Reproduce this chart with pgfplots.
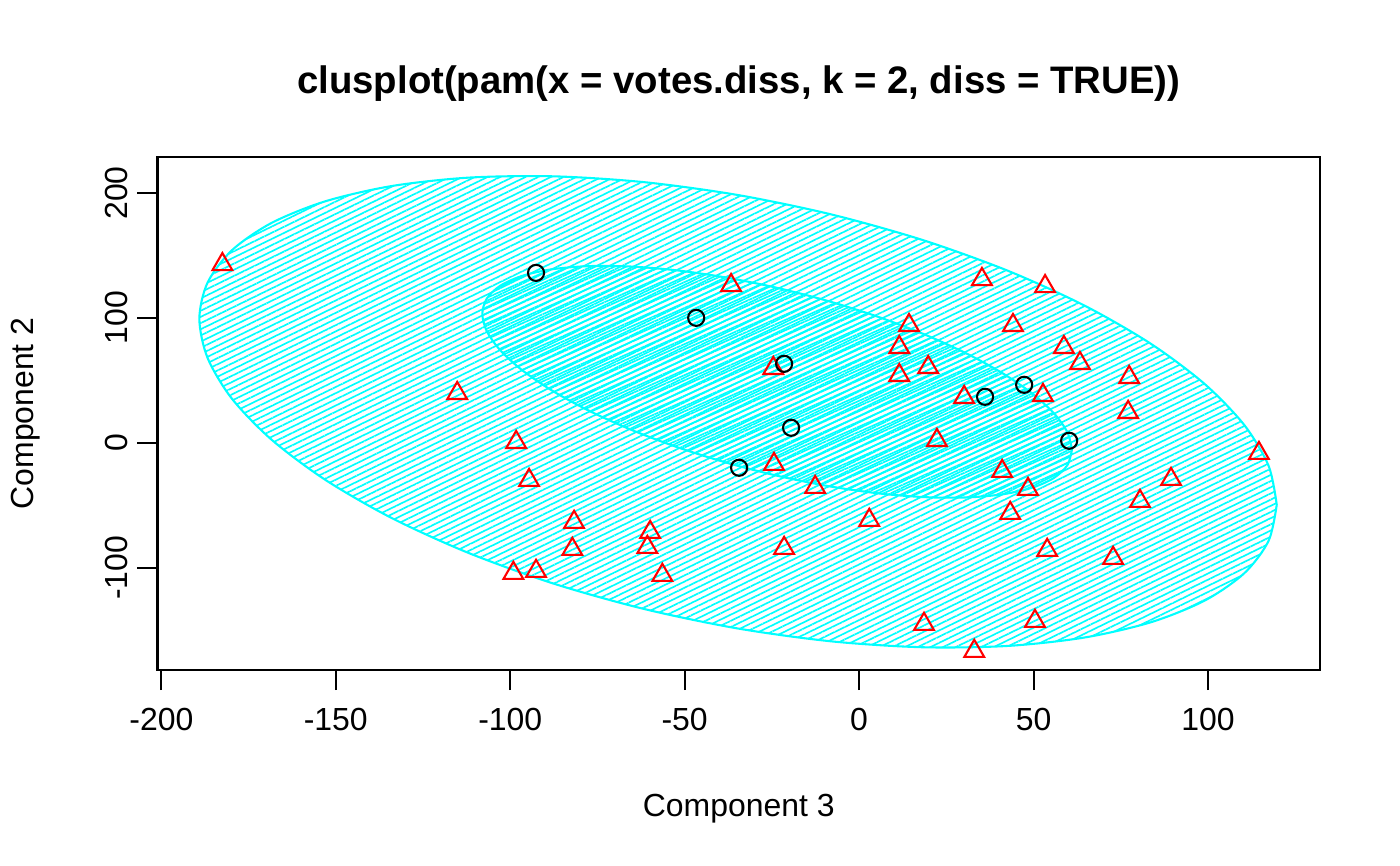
\documentclass[border=0pt]{standalone}
\usepackage{fontspec}
\setmainfont{Liberation Sans}
\usepackage{pgfplots}
\pgfplotsset{compat=1.18}
\usetikzlibrary{patterns.meta}

\definecolor{rcyan}{HTML}{00FFFF}
\definecolor{rred}{HTML}{FF0000}

\begin{document}
\begin{tikzpicture}
\useasboundingbox (-56.7bp,-70.56bp) rectangle (447.3bp,241.2bp);
\begin{axis}[
    scale only axis,
    width=418.5bp,
    height=184.7bp,
    xmin=-201.1, xmax=132.1,
    ymin=-181.9, ymax=228.8,
    axis line style={line width=0.75bp},
    xtick={-200,-150,-100,-50,0,50,100},
    xticklabels={-200,-150,-100,-50,0,50,100},
    ytick={-100,0,100,200},
    yticklabels={-100,0,100,200},
    xtick pos=bottom, ytick pos=left,
    tick align=outside,
    major tick length=7.2bp,
    tick style={black, line width=0.75bp},
    ticklabel style={font=\fontsize{11.5bp}{13.8bp}\selectfont},
    xticklabel shift=3.2bp,
    yticklabel style={rotate=90, anchor=south},
    label style={font=\fontsize{11.5bp}{13.8bp}\selectfont},
    xlabel={Component 3},
    ylabel={Component 2},
    xlabel style={at={(axis description cs:0.5,-0.2695)}, anchor=center},
    ylabel style={at={(axis description cs:-0.1136,0.5)}, anchor=center},
    title={clusplot(pam(x = votes.diss, k = 2, diss = TRUE))},
    title style={at={(axis description cs:0.5,1.111)}, anchor=center,
        font=\fontsize{13.8bp}{16.5bp}\selectfont\bfseries},
]
% cluster ellipses (outline)
\addplot[draw=rcyan, line width=0.75bp, smooth, tension=0.5,
    pattern={Lines[angle=26, distance=2bp, line width=0.6bp]}, pattern color=rcyan]
coordinates {
    (119.7,-49.6) (117.35,-18.35) (110.39,14.23) (99.01,47.12) (83.57,79.34)
    (64.55,109.88) (42.5,137.85) (18.1,162.4) (-7.9,182.74) (-34.7,198.3)
    (-61.5,208.58) (-87.5,213.28) (-111.9,212.25) (-133.95,205.52) (-152.97,193.32)
    (-168.41,175.98) (-179.79,154.05) (-186.75,128.19) (-189.1,99.2) (-186.75,67.95)
    (-179.79,35.37) (-168.41,2.48) (-152.97,-29.74) (-133.95,-60.28) (-111.9,-88.25)
    (-87.5,-112.8) (-61.5,-133.14) (-34.7,-148.7) (-7.9,-158.98) (18.1,-163.68)
    (42.5,-162.65) (64.55,-155.92) (83.57,-143.72) (99.01,-126.38) (110.39,-104.45)
    (117.35,-78.59) (119.7,-49.6)
};
\addplot[draw=rcyan, line width=0.75bp, smooth, tension=0.5,
    pattern={Lines[angle=24, distance=1.7bp, line width=0.6bp]}, pattern color=rcyan]
coordinates {
    (61.0,-5.6) (59.72,8.28) (55.9,23.4) (49.68,39.29) (41.23,55.47)
    (30.82,71.43) (18.75,86.72) (5.4,100.87) (-8.83,113.42) (-23.5,124.0)
    (-38.17,132.3) (-52.4,138.07) (-65.75,141.12) (-77.82,141.37) (-88.23,138.81)
    (-96.68,133.51) (-102.9,125.64) (-106.72,115.42) (-108.0,103.2) (-106.72,89.32)
    (-102.9,74.2) (-96.68,58.31) (-88.23,42.13) (-77.82,26.17) (-65.75,10.88)
    (-52.4,-3.27) (-38.17,-15.82) (-23.5,-26.4) (-8.83,-34.7) (5.4,-40.47)
    (18.75,-43.52) (30.82,-43.77) (41.23,-41.21) (49.68,-35.91) (55.9,-28.04)
    (59.72,-17.82) (61.0,-5.6)
};
% cluster 2 (triangles)
\addplot[only marks, mark=triangle, mark size=4.1bp, rred,
    mark options={line width=0.75bp}]
coordinates {
    (-182.5,142.8) (-36.7,126) (35.2,130.8) (53.3,125.2) (-115.2,39.6)
    (-98.3,0.4) (-94.6,-30) (-81.7,-63.6) (-82.2,-85.2) (-59.9,-71.6)
    (-60.7,-83.6) (-56.4,-106) (-99.1,-104.4) (-92.6,-102.8) (-24.6,59.6)
    (-24.4,-17.2) (-12.6,-35.6) (-21.5,-84.4) (2.9,-62) (14.3,94)
    (11.5,76.4) (11.5,54) (19.8,60.4) (22.3,2) (30.1,36.4)
    (44.1,94) (52.7,38) (58.7,76.4) (63.3,63.6) (77.4,52.4)
    (77.1,24.4) (41,-22.8) (48.4,-37.2) (43.3,-56.4) (53.9,-86)
    (89.4,-29.2) (80.5,-46.8) (72.8,-92.4) (114.6,-8.4) (18.6,-145.2)
    (50.4,-142.8) (33,-166.8)
};
% cluster 1 (circles)
\addplot[only marks, mark=o, mark size=2.9bp, black,
    mark options={line width=0.75bp}]
coordinates {
    (-92.6,136) (-46.7,100) (-21.5,63.2) (-19.5,12) (-34.4,-20)
    (36.1,36.8) (47.3,46.4) (60.2,1.6)
};
\end{axis}
\end{tikzpicture}
\end{document}
